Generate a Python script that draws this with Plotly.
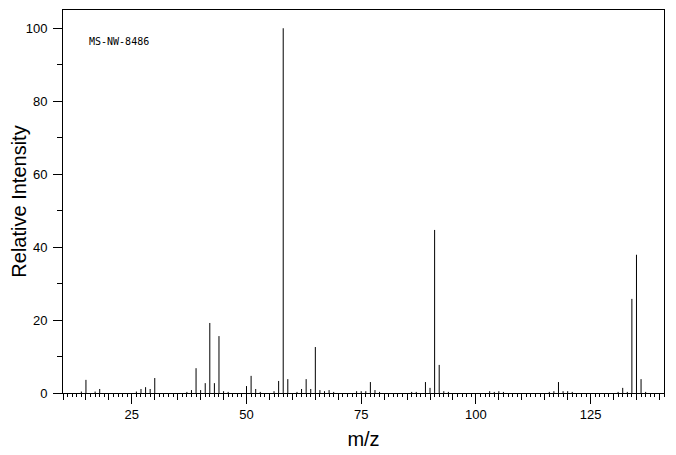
import plotly.graph_objects as go

# m/z values and relative intensities
mz = [14, 15, 17, 18, 26, 27, 28, 29, 30, 37, 38, 39, 40, 41, 42, 43, 44, 45, 46,
      50, 51, 52, 53, 56, 57, 58, 59, 61, 62, 63, 64, 65, 66, 67, 68, 69,
      74, 75, 76, 77, 78, 79, 86, 87, 89, 90, 91, 92, 93, 94,
      103, 104, 105, 106, 116, 117, 118, 119, 120, 121,
      131, 132, 133, 134, 135, 136, 137]
intensity = [0.4, 3.6, 0.4, 1.1, 0.4, 1.1, 1.6, 1.1, 4.1, 0.3, 0.8, 6.8, 0.8, 2.7, 19.2, 2.7, 15.6, 0.5, 0.3,
             1.9, 4.7, 1.1, 0.3, 0.5, 3.3, 100.0, 3.8, 0.3, 1.1, 3.8, 1.1, 12.6, 0.8, 0.5, 0.8, 0.3,
             0.5, 0.5, 0.5, 3.0, 0.8, 0.3, 0.3, 0.3, 3.0, 1.4, 44.7, 7.7, 0.5, 0.3,
             0.5, 0.3, 0.5, 0.3, 0.3, 0.5, 3.0, 0.5, 0.5, 0.3,
             0.3, 1.4, 0.3, 25.8, 37.9, 3.8, 0.3]

x_labels = [25, 50, 75, 100, 125]
y_labels = [0, 20, 40, 60, 80, 100]
spectrum_id = "MS-NW-8486"

# stick segments built from the data
xs, ys = [], []
for m, v in zip(mz, intensity):
    xs += [m, m, None]
    ys += [0, v, None]

fig = go.Figure()
fig.add_trace(go.Scatter(x=xs, y=ys, mode="lines",
                         line=dict(color="black", width=1),
                         hoverinfo="skip", showlegend=False))
# invisible trace so the secondary (long-tick) axis is rendered
fig.add_trace(go.Scatter(x=[x_labels[0]], y=[0], xaxis="x2", mode="markers",
                         marker=dict(opacity=0), showlegend=False, hoverinfo="skip"))

XR = [10, 141]
tick5 = list(range(10, 141, 5))
fig.update_layout(
    width=668, height=447,
    margin=dict(l=55, r=12, t=2, b=62),
    paper_bgcolor="white", plot_bgcolor="white",
    font=dict(family="Liberation Sans", size=13, color="black"),
    xaxis=dict(range=XR, showgrid=False, zeroline=False, automargin=False,
               showline=True, linecolor="black", linewidth=1, mirror=True,
               tickmode="array", tickvals=tick5,
               ticktext=[str(v) if v in x_labels else "" for v in tick5],
               ticks="outside", ticklen=6, tickwidth=1, tickcolor="black",
               ticklabelstandoff=3,
               minor=dict(dtick=1, tick0=0, ticks="outside", ticklen=3,
                          tickwidth=1, tickcolor="black", showgrid=False),
               title=dict(text="m/z", font=dict(size=20), standoff=11)),
    xaxis2=dict(range=XR, overlaying="x", anchor="y", side="bottom", automargin=False,
                showgrid=False, zeroline=False, showline=False,
                tickmode="array", tickvals=x_labels, showticklabels=False,
                ticks="outside", ticklen=10, tickwidth=1, tickcolor="black"),
    yaxis=dict(range=[0, 105], showgrid=False, zeroline=False, automargin=False,
               showline=True, linecolor="black", linewidth=1, mirror=True,
               tickmode="array", tickvals=y_labels,
               ticks="outside", ticklen=9, tickwidth=1, tickcolor="black",
               ticklabelstandoff=3,
               minor=dict(tickvals=[10, 30, 50, 70, 90], ticks="outside", ticklen=5,
                          tickwidth=1, tickcolor="black", showgrid=False),
               title=dict(text="Relative Intensity", font=dict(size=20), standoff=18)),
    annotations=[dict(text=spectrum_id, xref="paper", yref="paper",
                      x=0.04, y=0.919, xanchor="left", yanchor="middle",
                      showarrow=False,
                      font=dict(family="DejaVu Sans Mono", size=10, color="black"))],
)

fig.write_html("out.html")
